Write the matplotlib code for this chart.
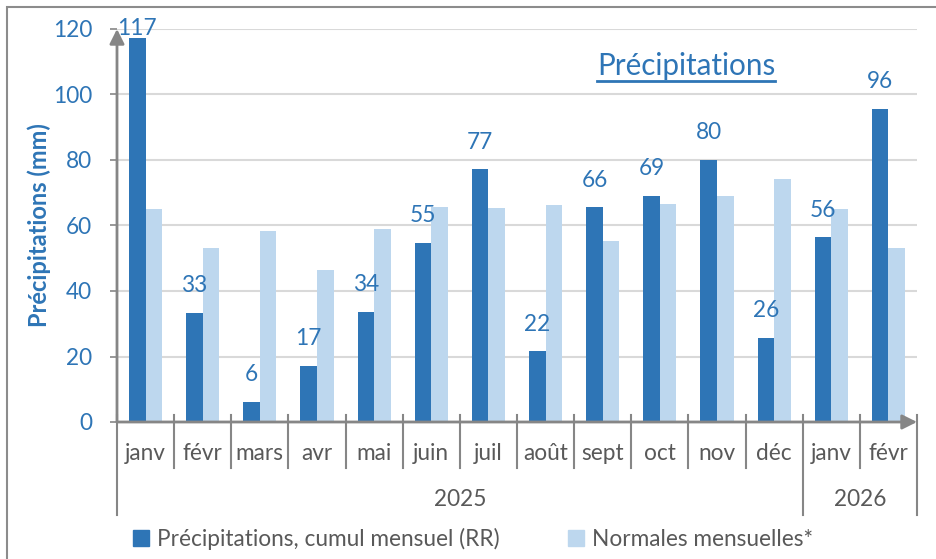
import numpy as np
import matplotlib.pyplot as plt
from matplotlib.lines import Line2D
from matplotlib.patches import Rectangle, Patch

months = ["janv", "févr", "mars", "avr", "mai", "juin", "juil", "août",
          "sept", "oct", "nov", "déc", "janv", "févr"]
years = ["2025", "2026"]
year_counts = [12, 2]
precip = [117.2, 33.3, 6.1, 17.1, 33.6, 54.7, 77.2, 21.6, 65.5, 69.0, 80.1, 25.6, 56.4, 95.7]
normals = [65.0, 53.1, 58.3, 46.4, 58.9, 65.6, 65.3, 66.3, 55.3, 66.6, 69.0, 74.3, 65.0, 53.1]

DARK = "#2E75B6"
LIGHT = "#BDD7EE"
GREY = "#595959"
AXC = "#868686"
FS = 16.3

plt.rcParams["font.family"] = ["Lato", "DejaVu Sans"]

W, H = 936, 559
fig = plt.figure(figsize=(W / 100, H / 100), dpi=100)
ax = fig.add_axes([117 / W, 1 - 422 / H, 800 / W, 393 / H])

x = np.arange(len(months))
bw = 0.29
ax.bar(x - bw / 2, precip, bw, color=DARK, zorder=3)
ax.bar(x + bw / 2, normals, bw, color=LIGHT, zorder=3)

ax.set_xlim(-0.5, len(months) - 0.5)
ax.set_ylim(0, 120)
ax.set_yticks(range(0, 121, 20))
ax.yaxis.grid(True, color="#D9D9D9", lw=1.5, zorder=0)
ax.tick_params(axis="y", colors=AXC, labelcolor=DARK, labelsize=FS,
               length=5, width=1.2, pad=13)
ax.tick_params(axis="x", bottom=False, labelbottom=False)
for s in ax.spines.values():
    s.set_visible(False)

# axes with arrow heads
arrow = dict(arrowstyle="-|>", color=AXC, lw=2, mutation_scale=22, shrinkA=0, shrinkB=0)
ax.annotate("", xy=(0, 1), xytext=(0, 0), xycoords="axes fraction", arrowprops=arrow)
ax.annotate("", xy=(1, 0), xytext=(0, 0), xycoords="axes fraction", arrowprops=arrow)

# value labels
for xi, v in zip(x, precip):
    if v > 110:
        ax.text(xi - bw / 2, 120, f"{v:.0f}", ha="center", va="center",
                color=DARK, fontsize=FS, zorder=5)
    else:
        ax.annotate(f"{v:.0f}", (xi - bw / 2, v), xytext=(0, 12), textcoords="offset points",
                    ha="center", va="bottom", color=DARK, fontsize=FS)

ax.set_ylabel("Précipitations (mm)", color=DARK, fontsize=17, fontweight="bold", labelpad=1)

# multi-level category axis
tr = ax.get_xaxis_transform()
y_top, y_mid, y_bot = 7 / 393, -46 / 393, -93 / 393
bounds = np.cumsum([0] + year_counts) - 0.5
for b in np.arange(-0.5, len(months)):
    low = y_bot if b in bounds else y_mid
    ax.add_line(Line2D([b, b], [y_top, low], color=AXC, lw=1.5, transform=tr, clip_on=False))
for xi, m in zip(x, months):
    ax.text(xi, -31 / 393, m, ha="center", va="center", color=GREY, fontsize=FS, transform=tr)
for i, yr in enumerate(years):
    ax.text((bounds[i] + bounds[i + 1]) / 2, -78 / 393, yr, ha="center", va="center",
            color=GREY, fontsize=FS, transform=tr)

# title with underline
t = fig.text(686 / W, 1 - 66 / H, "Précipitations", ha="center", va="center",
             color=DARK, fontsize=21.3)
fig.canvas.draw()
bb = t.get_window_extent()
fig.add_artist(Line2D([bb.x0 / W, bb.x1 / W], [(H - 81) / H] * 2, color=DARK, lw=2))

# legend
handles = [Patch(color=DARK), Patch(color=LIGHT)]
fig.legend(handles, ["Précipitations, cumul mensuel (RR)", "Normales mensuelles*"],
           loc="center left", bbox_to_anchor=(133 / W, 1 - 539 / H), ncol=2, frameon=False,
           fontsize=FS, labelcolor=GREY, handlelength=0.72, handleheight=0.72,
           handletextpad=0.35, columnspacing=3.0, borderaxespad=0, borderpad=0)

# outer frame
fig.add_artist(Rectangle((7 / W, -0.1), 1.2, 1 - 7 / H + 0.1, transform=fig.transFigure,
                         fill=False, ec="#8C8C8C", lw=1.5))

fig.savefig("out.png", dpi=100)
